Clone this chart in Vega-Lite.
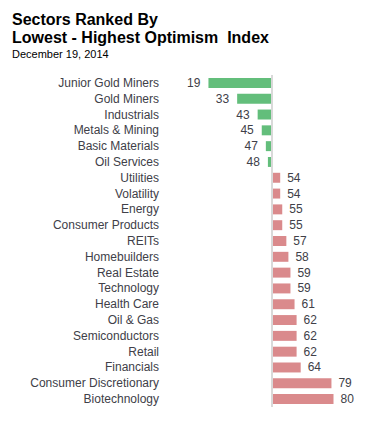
{
  "$schema": "https://vega.github.io/schema/vega-lite/v6.json",
  "autosize": "none",
  "width": 205,
  "height": 332,
  "padding": {"left": 169.5, "top": 75, "right": 5.5, "bottom": 21},
  "background": "white",
  "title": {
    "text": ["Sectors Ranked By", "Lowest - Highest Optimism\u00a0 Index"],
    "subtitle": "December 19, 2014",
    "anchor": "start",
    "frame": "group",
    "dx": -157.5,
    "offset": 14,
    "font": "Liberation Sans",
    "fontSize": 16,
    "fontWeight": "bold",
    "lineHeight": 18,
    "color": "black",
    "subtitleFont": "Liberation Sans",
    "subtitleFontSize": 11,
    "subtitleColor": "black",
    "subtitlePadding": 3
  },
  "data": {
    "values": [
      {"sector": "Junior Gold Miners", "value": 19},
      {"sector": "Gold Miners", "value": 33},
      {"sector": "Industrials", "value": 43},
      {"sector": "Metals & Mining", "value": 45},
      {"sector": "Basic Materials", "value": 47},
      {"sector": "Oil Services", "value": 48},
      {"sector": "Utilities", "value": 54},
      {"sector": "Volatility", "value": 54},
      {"sector": "Energy", "value": 55},
      {"sector": "Consumer Products", "value": 55},
      {"sector": "REITs", "value": 57},
      {"sector": "Homebuilders", "value": 58},
      {"sector": "Real Estate", "value": 59},
      {"sector": "Technology", "value": 59},
      {"sector": "Health Care", "value": 61},
      {"sector": "Oil & Gas", "value": 62},
      {"sector": "Semiconductors", "value": 62},
      {"sector": "Retail", "value": 62},
      {"sector": "Financials", "value": 64},
      {"sector": "Consumer Discretionary", "value": 79},
      {"sector": "Biotechnology", "value": 80}
    ]
  },
  "layer": [
    {
      "mark": {"type": "bar"},
      "encoding": {
        "y": {
          "field": "sector",
          "type": "nominal",
          "sort": null,
          "scale": {"paddingInner": 0.37, "paddingOuter": 0.185},
          "axis": {
            "title": null,
            "domain": false,
            "ticks": false,
            "grid": false,
            "tickSize": 0,
            "labelPadding": 11,
            "labelFont": "Liberation Sans",
            "labelFontSize": 12,
            "labelColor": "#404048",
            "labelLimit": 200
          }
        },
        "x": {
          "field": "value",
          "type": "quantitative",
          "scale": {"domain": [0, 100], "nice": false, "zero": false},
          "axis": null
        },
        "x2": {"datum": 50},
        "color": {
          "condition": {"test": "datum.value < 50", "value": "#63be7b"},
          "value": "#da8a8c"
        }
      }
    },
    {
      "mark": {"type": "rule", "color": "#d9d9d9", "strokeWidth": 1.5},
      "encoding": {"x": {"datum": 50}}
    },
    {
      "transform": [{"filter": "datum.value < 50"}],
      "mark": {"type": "text", "align": "right", "dx": -8, "font": "Liberation Sans", "fontSize": 12, "color": "#404048"},
      "encoding": {
        "y": {"field": "sector", "type": "nominal", "sort": null},
        "x": {"field": "value", "type": "quantitative"},
        "text": {"field": "value", "type": "quantitative"}
      }
    },
    {
      "transform": [{"filter": "datum.value >= 50"}],
      "mark": {"type": "text", "align": "left", "dx": 7, "font": "Liberation Sans", "fontSize": 12, "color": "#404048"},
      "encoding": {
        "y": {"field": "sector", "type": "nominal", "sort": null},
        "x": {"field": "value", "type": "quantitative"},
        "text": {"field": "value", "type": "quantitative"}
      }
    }
  ],
  "config": {"view": {"stroke": null}}
}
